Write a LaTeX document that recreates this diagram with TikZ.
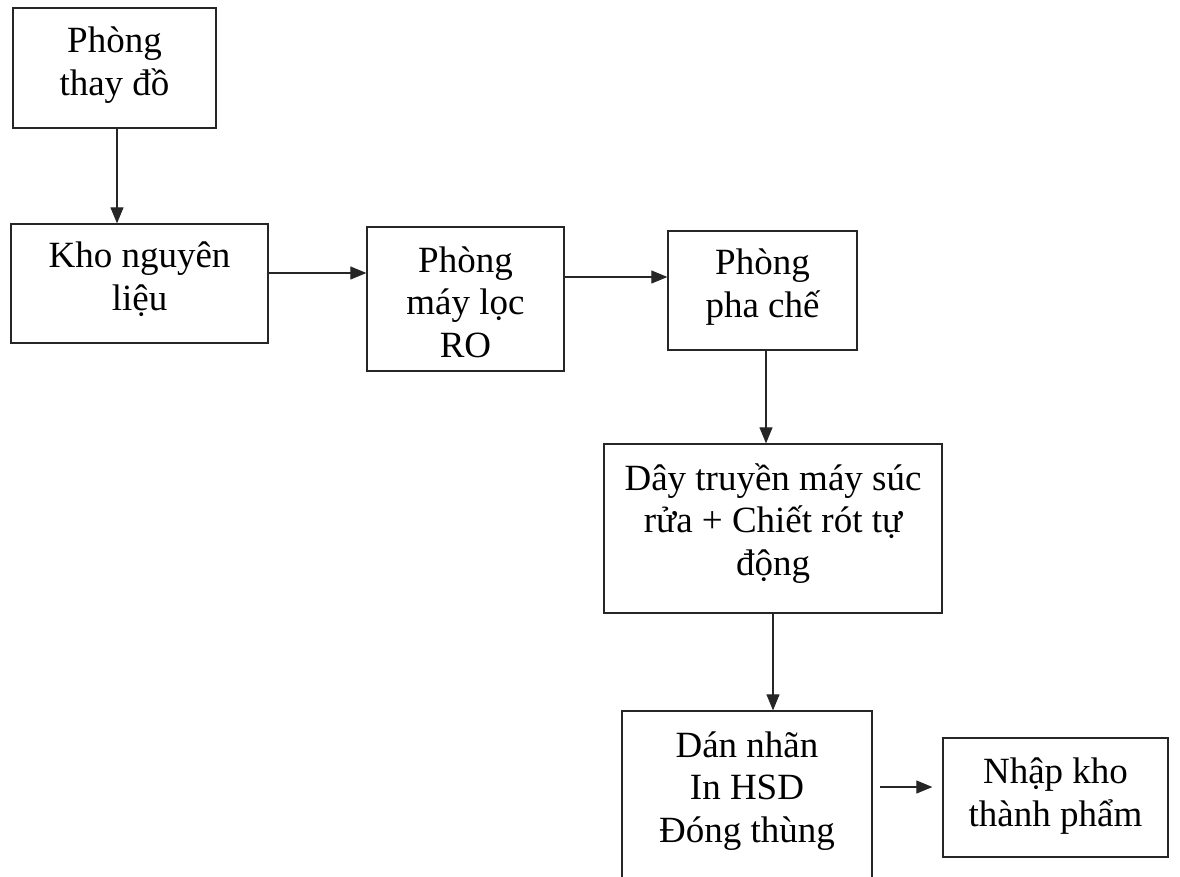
\documentclass[tikz,border=0pt]{standalone}
\usepackage{fontspec}
\setmainfont{Liberation Serif}
\usetikzlibrary{arrows.meta}
\begin{document}
\begin{tikzpicture}[x=1pt,y=-1pt,
  box/.style={draw=black!85,line width=1.3pt,rectangle,inner sep=0pt},
  txt/.style={align=center,inner sep=0pt,anchor=base,font=\fontsize{37}{42.5}\selectfont},
  arr/.style={draw=black!85,line width=1.1pt,-{Triangle[length=16pt,width=13pt]}}]
\useasboundingbox (0,0) rectangle (1180,876);
\clip (0,0) rectangle (1180,876);
% boxes
\node[box,minimum width=203pt,minimum height=120pt] (b1) at (114.5,68) {};
\node[box,minimum width=257pt,minimum height=119pt] (b2) at (139.5,283.5) {};
\node[box,minimum width=197pt,minimum height=144pt] (b3) at (465.5,299) {};
\node[box,minimum width=189pt,minimum height=119pt] (b4) at (762.5,290.5) {};
\node[box,minimum width=338pt,minimum height=169pt] (b5) at (773,528.5) {};
\node[box,minimum width=250pt,minimum height=200pt] (b6) at (747,811) {};
\node[box,minimum width=225pt,minimum height=119pt] (b7) at (1055.5,797.5) {};
% texts (placed at the baseline of their last line)
\node[txt] (t1) at (114.5,95) {Phòng\\thay đồ};
\node[txt] (t2) at (139.5,310) {Kho nguyên\\liệu};
\node[txt] (t3) at (465.5,357) {Phòng\\máy lọc\\RO};
\node[txt] (t4) at (762.5,317) {Phòng\\pha chế};
\node[txt] (t5) at (773,575) {Dây truyền máy súc\\rửa + Chiết rót tự\\động};
\node[txt] (t6) at (747,842) {Dán nhãn\\In HSD\\Đóng thùng};
\node[txt] (t7) at (1055.5,826) {Nhập kho\\thành phẩm};
% connectors
\coordinate (a6) at (880,787);
\draw[arr] (b1.south -| 117,0) -- (b2.north -| 117,0);
\draw[arr] (b2.east |- 0,273) -- (b3.west |- 0,273);
\draw[arr] (b3.east |- 0,277) -- (b4.west |- 0,277);
\draw[arr] (b4.south -| 766,0) -- (b5.north -| 766,0);
\draw[arr] (b5.south -| 773,0) -- (b6.north -| 773,0);
\draw[arr] (a6) -- ([xshift=-10pt]b7.west |- a6);
\end{tikzpicture}
\end{document}
